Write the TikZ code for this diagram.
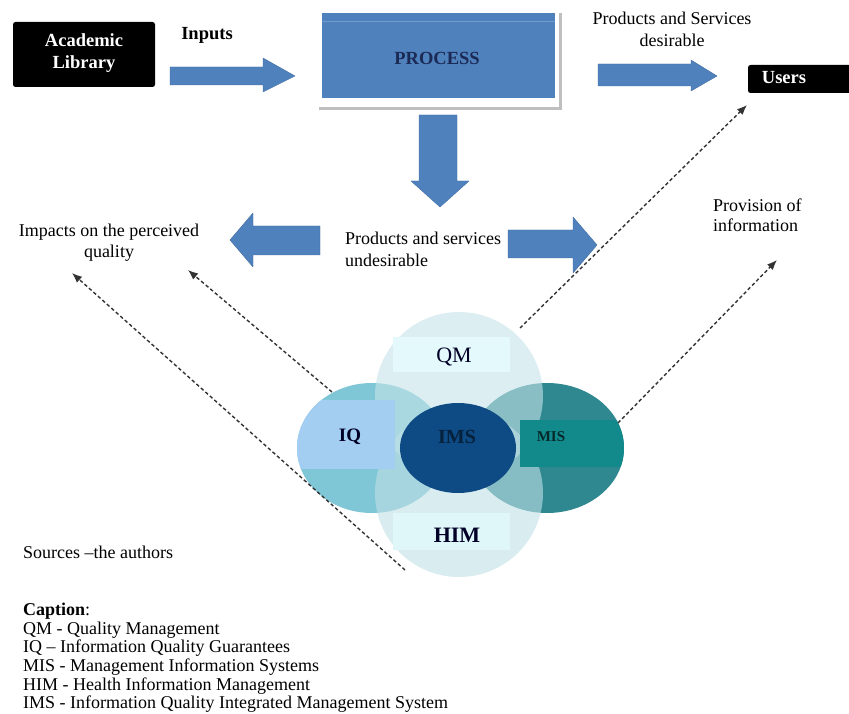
\documentclass[tikz,border=0pt]{standalone}
\usepackage{fontspec}
\setmainfont{Liberation Serif}
\usetikzlibrary{arrows.meta,shapes.geometric}
\definecolor{arrowblue}{HTML}{4F81BD}
\definecolor{navytxt}{HTML}{1B2A55}
\definecolor{iqc}{HTML}{7FC6D6}
\definecolor{misc}{HTML}{2F8790}
\definecolor{qmc}{HTML}{C5E4E9}
\definecolor{himc}{HTML}{C0E0E6}
\definecolor{imsc}{HTML}{0E4A83}
\definecolor{qmbox}{HTML}{E4F9FB}
\definecolor{himbox}{HTML}{E0F7FA}
\definecolor{iqbox}{HTML}{A3CEF1}
\definecolor{misbox}{HTML}{12898B}
\begin{document}
\begin{tikzpicture}[x=1pt,y=-1pt,
  fatarrow/.style={fill=arrowblue, draw=arrowblue!85!black, line width=0.4pt, line join=round},
  dasharr/.style={draw=black!80, line width=1.4pt, dash pattern=on 3.5pt off 2.5pt, -{Latex[length=10pt,width=8pt]}},
  rtxt/.style={font=\fontsize{18}{20}\selectfont, inner sep=0pt},
  btxt/.style={font=\bfseries\fontsize{18.5}{22}\selectfont, inner sep=0pt},
  blackbox/.style={fill=black, rounded corners=2.5pt, inner sep=0pt},
  lblbox/.style={inner sep=0pt}
]
\useasboundingbox (0,0) rectangle (849,714);
\fill[white] (0,0) rectangle (849,714);

% --- Academic Library ---
\node[blackbox, minimum width=142, minimum height=65] (lib) at (84,54.5) {};
\node[btxt, text=white, align=center, anchor=north] (libtxt) at (84,33) {Academic\\Library};

% --- Inputs ---
\node[btxt, anchor=base] (inputs) at (207,40) {Inputs};
\fill[fatarrow] (170,67) -- (263,67) -- (263,58) -- (295,76) -- (263,92) -- (263,85) -- (170,85) -- cycle;

% --- PROCESS ---
\fill[black!25] (319,13) rectangle (562,110);
\fill[white] (315,9) rectangle (559,107);
\node[fill=arrowblue, minimum width=233, minimum height=85, inner sep=0pt] (proc) at (438.5,55.5) {};
\draw[arrowblue!80!white, line width=0.8pt] (322,21.5) -- (555,21.5);
\node[btxt, text=navytxt] (proctxt) at (437,58) {PROCESS};

% --- desirable ---
\node[rtxt, font=\fontsize{18}{22}\selectfont, align=center, anchor=north] (des) at (672,11.5) {Products and Services\\desirable};
\fill[fatarrow] (598,64) -- (691,64) -- (691,60) -- (717,76) -- (691,91) -- (691,86) -- (598,86) -- cycle;

% --- Users ---
\node[blackbox, minimum width=110, minimum height=28] (users) at (803,79) {};
\node[btxt, text=white] (userstxt) at (784,78) {Users};

% --- down arrow ---
\fill[fatarrow] (419,115) -- (457,115) -- (457,181) -- (469,181) -- (440,207) -- (411,181) -- (419,181) -- cycle;

% --- left / right arrows ---
\fill[fatarrow] (320,226) -- (253,226) -- (253,213) -- (230,240) -- (253,267) -- (253,255) -- (320,255) -- cycle;
\fill[fatarrow] (508,230) -- (573,230) -- (573,217) -- (597,245) -- (573,273) -- (573,258) -- (508,258) -- cycle;

\node[rtxt, font=\fontsize{18}{22}\selectfont, align=left, anchor=north west] (undes) at (345,231.5) {Products and services\\undesirable};
\node[rtxt, font=\fontsize{18}{21}\selectfont, align=center, anchor=north] (impacts) at (109,223.5) {Impacts on the perceived\\quality};
\node[rtxt, align=left, anchor=north west] (prov) at (713,198.5) {Provision of\\information};

% --- Venn ---
\node[ellipse, fill=iqc, minimum width=150, minimum height=130, inner sep=0pt] (iq) at (372,448) {};
\node[ellipse, fill=misc, minimum width=154, minimum height=130, inner sep=0pt] (mis) at (547,448) {};
\node[circle, fill=qmc, fill opacity=0.6, minimum size=168, inner sep=0pt] (qm) at (459,396) {};
\node[circle, fill=himc, fill opacity=0.6, minimum size=168, inner sep=0pt] (him) at (459,493) {};
\begin{scope}
  \clip (372,448) ellipse [x radius=75pt, y radius=65pt];
  \fill[iqbox] (290,400) rectangle (395,469);
\end{scope}
\begin{scope}
  \clip (547,448) ellipse [x radius=77pt, y radius=65pt];
  \fill[misbox] (520,420) rectangle (630,467);
\end{scope}
\node[ellipse, fill=imsc, minimum width=116, minimum height=90, inner sep=0pt] (ims) at (458,448) {};
\node[lblbox, fill=qmbox, minimum width=117, minimum height=35] (qmb) at (451.5,354.5) {};
\node[lblbox, fill=himbox, minimum width=117, minimum height=37] (himb) at (451.5,531.5) {};

\node[rtxt, font=\fontsize{22}{24}\selectfont, text=black!85!blue] (qmt) at (454,357) {QM};
\node[btxt, font=\bfseries\fontsize{19}{22}\selectfont, text=black!85!blue] (iqt) at (350,437) {IQ};
\node[btxt, font=\bfseries\fontsize{20}{22}\selectfont, text=imsc!45!black] (imst) at (457,437) {IMS};
\node[btxt, font=\bfseries\fontsize{15}{18}\selectfont, text=misbox!30!black] (mist) at (551,437) {MIS};
\node[btxt, font=\bfseries\fontsize{22}{24}\selectfont, text=black!85!blue] (himt) at (457,535) {HIM};

% --- dashed arrows ---
\coordinate (t1) at (405,570); \coordinate (h1) at (72,273);
\coordinate (t2) at (332,392); \coordinate (h2) at (188,270);
\coordinate (t3) at (520,328); \coordinate (h3) at (747,105);
\coordinate (t4) at (618,423); \coordinate (h4) at (777,260);
\draw[dasharr] (t1) -- (h1);
\draw[dasharr] (t2) -- (h2);
\draw[dasharr] (t3) -- (h3);
\draw[dasharr] (t4) -- (h4);

% --- sources & caption ---
\node[rtxt, anchor=base west] (src) at (23,558) {Sources –the authors};
\node[rtxt, font=\fontsize{18}{18.6}\selectfont, align=left, anchor=north west] (cap) at (23,603) {\textbf{Caption}:\\QM - Quality Management\\IQ – Information Quality Guarantees\\MIS - Management Information Systems\\HIM - Health Information Management\\IMS - Information Quality Integrated Management System};
\end{tikzpicture}
\end{document}
